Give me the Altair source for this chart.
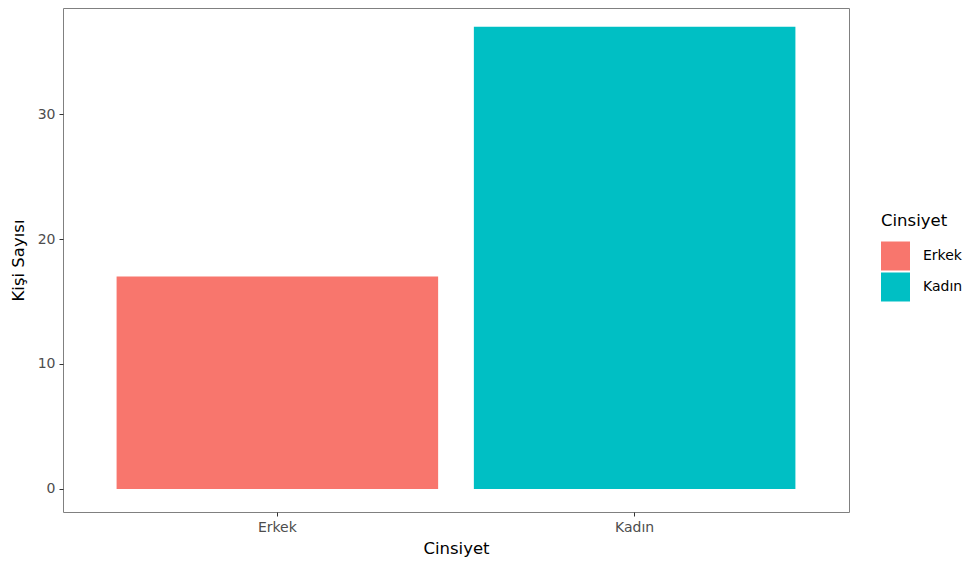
import altair as alt
import pandas as pd

categories = ["Erkek", "Kadın"]
counts = [17, 37]
colors = ["#F8766D", "#00BFC4"]
y_ticks = [0, 10, 20, 30]

df = pd.DataFrame({"Cinsiyet": categories, "Kişi Sayısı": counts})

FONT = "DejaVu Sans"

chart = alt.Chart(df).mark_bar().encode(
    x=alt.X(
        "Cinsiyet:N",
        sort=categories,
        scale=alt.Scale(paddingInner=0.1, paddingOuter=0.15),
        axis=alt.Axis(
            title="Cinsiyet",
            labelAngle=0,
            labelColor="#4d4d4d",
            labelFontSize=14,
            labelFont=FONT,
            labelPadding=4,
            tickColor="#333333",
            tickSize=4,
            domain=False,
            titleFont=FONT,
            titleFontSize=16.5,
            titleFontWeight="normal",
            titleColor="#000000",
            titlePadding=6,
        ),
    ),
    y=alt.Y(
        "Kişi Sayısı:Q",
        scale=alt.Scale(domain=[-1.85, 38.5], nice=False, zero=False),
        axis=alt.Axis(
            title="Kişi Sayısı",
            values=y_ticks,
            grid=False,
            labelColor="#4d4d4d",
            labelFontSize=14,
            labelFont=FONT,
            labelPadding=4,
            tickColor="#333333",
            tickSize=4,
            domain=False,
            titleFont=FONT,
            titleFontSize=16.5,
            titleFontWeight="normal",
            titleColor="#000000",
            titlePadding=11,
        ),
    ),
    color=alt.Color(
        "Cinsiyet:N",
        sort=categories,
        scale=alt.Scale(domain=categories, range=colors),
        legend=alt.Legend(
            orient="none",
            legendX=818,
            legendY=205,
            symbolType="square",
            symbolSize=841,
            symbolStrokeWidth=0,
            symbolOpacity=1,
            labelFont=FONT,
            labelFontSize=14,
            labelColor="#000000",
            labelOffset=13,
            titleFont=FONT,
            titleFontSize=16.5,
            titleFontWeight="normal",
            titleColor="#000000",
            titlePadding=12,
            rowPadding=2,
        ),
    ),
).properties(
    width=786,
    height=504,
    padding={"left": 55, "top": 0, "right": 115, "bottom": 47},
    autosize=alt.AutoSizeParams(type="none"),
).configure_view(
    stroke="#808080",
    strokeWidth=1,
)

chart.save("out.html", embed_options={"renderer": "svg", "actions": False})
